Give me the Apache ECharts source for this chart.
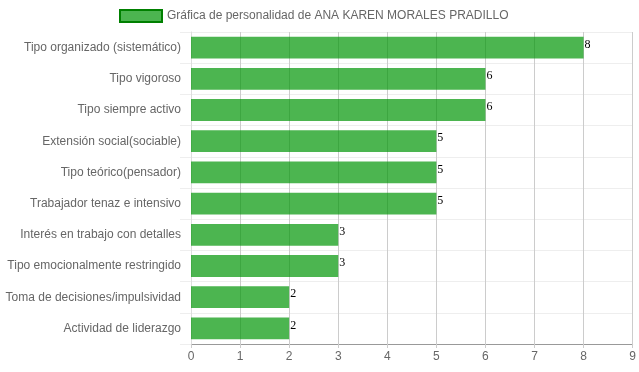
<!DOCTYPE html>
<html><head><meta charset="utf-8">
<script src="https://cdn.jsdelivr.net/npm/echarts@6/dist/echarts.min.js"></script>
<style>html,body{margin:0;padding:0;background:#fff}#c{width:639px;height:372px}</style>
</head><body><div id="c"></div>
<script>
const categories = ["Tipo organizado (sistemático)","Tipo vigoroso","Tipo siempre activo","Extensión social(sociable)","Tipo teórico(pensador)","Trabajador tenaz e intensivo","Interés en trabajo con detalles","Tipo emocionalmente restringido","Toma de decisiones/impulsividad","Actividad de liderazgo"];
const values = [8,6,6,5,5,5,3,3,2,2];
const seriesName = "Gráfica de personalidad de ANA KAREN MORALES PRADILLO";
const xTicks = [0,1,2,3,4,5,6,7,8,9];

const chart = echarts.init(document.getElementById('c'), null, {renderer:'canvas'});
chart.setOption({
  animation:false,
  textStyle:{fontFamily:'Liberation Sans, Arial, sans-serif'},
  legend:{
    top:4, left:114, itemWidth:42, itemHeight:12, itemGap:10, icon:'rect',
    textStyle:{color:'#666', fontSize:12, fontFamily:'Liberation Sans, Arial, sans-serif'},
    data:[{name:seriesName, icon:'rect', itemStyle:{color:'rgba(0,150,5,0.7)', borderColor:'rgb(0,128,0)', borderWidth:2}}]
  },
  grid:{left:191, right:6, top:32, bottom:28, containLabel:false},
  xAxis:{
    type:'value', min:xTicks[0], max:xTicks[xTicks.length-1], interval:1,
    axisLine:{show:true, lineStyle:{color:'#999', width:1}},
    axisTick:{show:true, length:4, lineStyle:{color:'#ccc'}},
    axisLabel:{color:'#666', fontSize:12, margin:7},
    splitLine:{show:true, lineStyle:{color:'#ccc', width:1}}
  },
  yAxis:{
    type:'category', inverse:true, data:categories,
    axisLine:{show:true, lineStyle:{color:'#ddd'}},
    axisTick:{show:true, length:11, alignWithLabel:false, lineStyle:{color:'#eee'}},
    axisLabel:{color:'#666', fontSize:12, margin:10},
    splitLine:{show:true, lineStyle:{color:'#eee', width:1}}
  },
  series:[{
    name:seriesName, type:'bar', data:values, barCategoryGap:'30%',
    itemStyle:{color:'rgba(0,150,5,0.7)'},
    label:{show:true, position:'right', distance:1, offset:[0,-3], color:'#000', fontSize:12, fontFamily:'Liberation Serif, Times New Roman, serif'}
  }]
});
</script></body></html>
